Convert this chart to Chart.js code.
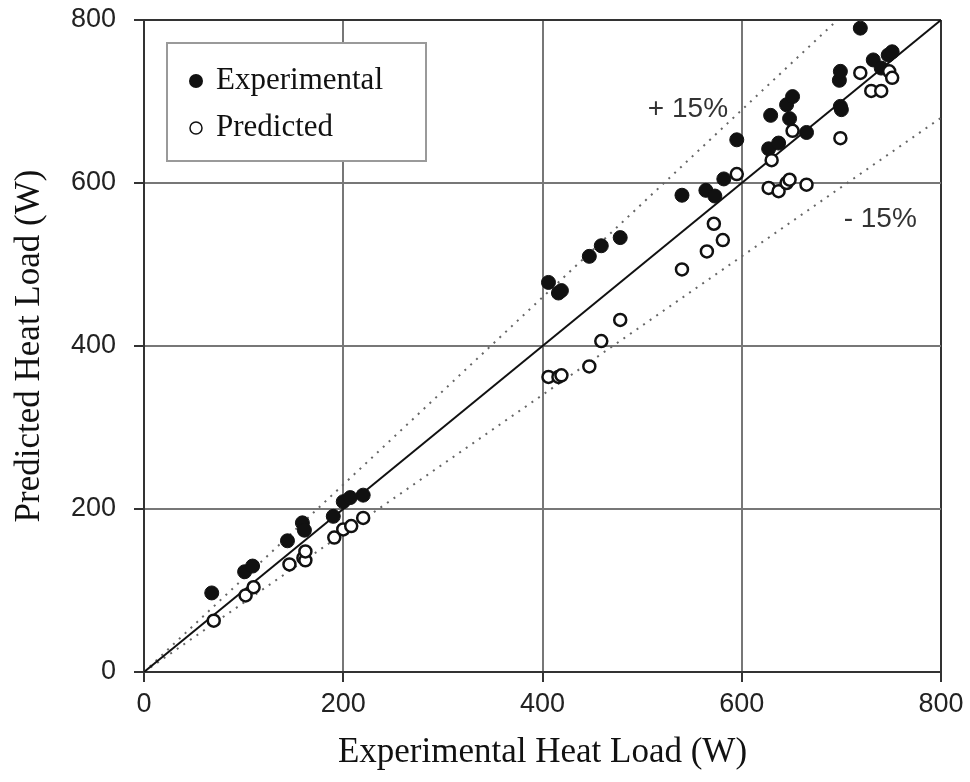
<!DOCTYPE html>
<html>
<head>
<meta charset="utf-8">
<script src="https://cdn.jsdelivr.net/npm/chart.js@4.4.1/dist/chart.umd.min.js"></script>
<style>
  html, body { margin: 0; padding: 0; background: #fff; }
  #wrap { width: 970px; height: 782px; position: relative; }
</style>
</head>
<body>
<div id="wrap"><canvas id="heatChart"></canvas></div>
<script>
// experimental heat load (x) vs predicted heat load (y), W
const expX = [68, 101, 109, 144, 159, 161, 190, 200, 207, 220, 406, 416, 419, 447, 459, 478, 540, 564, 573, 582, 595, 627, 629, 637, 645, 648, 651, 665, 698, 699, 699, 700, 719, 732, 740, 747, 751];
const expY = [97, 123, 130, 161, 183, 174, 191, 209, 214, 217, 478, 465, 468, 510, 523, 533, 585, 591, 584, 605, 653, 642, 683, 649, 696, 679, 706, 662, 726, 737, 694, 690, 790, 751, 741, 757, 761];

const predX = [70, 102, 110, 146, 160, 162, 162, 191, 200, 208, 220, 406, 416, 419, 447, 459, 478, 540, 565, 572, 581, 595, 627, 630, 637, 645, 648, 651, 665, 699, 719, 730, 740, 748, 751];
const predY = [63, 94, 104, 132, 140, 137, 148, 165, 175, 179, 189, 362, 362, 364, 375, 406, 432, 494, 516, 550, 530, 611, 594, 628, 590, 600, 604, 664, 598, 655, 735, 713, 713, 737, 729];

// reference lines (end points)
const perfectX = [0, 800], perfectY = [0, 800];
const upperX = [0, 696], upperY = [0, 800];
const lowerX = [0, 800], lowerY = [0, 680];

const tickValues = [0, 200, 400, 600, 800];
const seriesNames = ['Experimental', 'Predicted'];

function pts(xs, ys) {
    return xs.map((x, i) => ({ x: x, y: ys[i] }));
}

const serif = '"Liberation Serif", "Times New Roman", serif';
const sans = '"Liberation Sans", Arial, sans-serif';

// legend box + the +/-15% labels
const overlay = {
    id: 'overlay',
    afterDatasetsDraw(chart) {
        const ctx = chart.ctx;
        const area = chart.chartArea;
        const xs = chart.scales.x, ys = chart.scales.y;
        ctx.save();

        ctx.font = '28px ' + sans;
        ctx.fillStyle = '#333';
        ctx.textAlign = 'center';
        ctx.textBaseline = 'middle';
        ctx.fillText('+ 15%', xs.getPixelForValue(546), ys.getPixelForValue(690));
        ctx.fillText('- 15%', xs.getPixelForValue(739), ys.getPixelForValue(556));

        const bx = area.left + 23, by = area.top + 23;
        ctx.fillStyle = '#fff';
        ctx.fillRect(bx, by, 259, 118);
        ctx.strokeStyle = '#9a9a9a';
        ctx.lineWidth = 2;
        ctx.strokeRect(bx, by, 259, 118);

        ctx.font = '31px ' + serif;
        ctx.textAlign = 'left';
        ctx.fillStyle = '#111';
        seriesNames.forEach((name, i) => {
            const cy = by + 38 + i * 47;
            ctx.beginPath();
            ctx.arc(bx + 29, cy, i === 0 ? 7 : 6, 0, Math.PI * 2);
            if (i === 0) {
                ctx.fillStyle = '#111';
                ctx.fill();
            } else {
                ctx.strokeStyle = '#111';
                ctx.lineWidth = 1.5;
                ctx.stroke();
            }
            ctx.fillStyle = '#111';
            ctx.fillText(name, bx + 49, cy);
        });
        ctx.restore();
    }
};

const edge = v => (v === 0 || v === 800);

const ctx = document.getElementById('heatChart').getContext('2d');
const chart = new Chart(ctx, {
    type: 'scatter',
    data: {
        datasets: [
            {
                label: seriesNames[0],
                data: pts(expX, expY),
                pointRadius: 7,
                pointBackgroundColor: '#111',
                pointBorderColor: '#111',
                pointBorderWidth: 1,
                order: 1
            },
            {
                label: seriesNames[1],
                data: pts(predX, predY),
                pointRadius: 6,
                pointBackgroundColor: '#fff',
                pointBorderColor: '#111',
                pointBorderWidth: 2.5,
                order: 0
            },
            {
                label: 'y = x',
                data: pts(perfectX, perfectY),
                showLine: true,
                borderColor: '#111',
                borderWidth: 2,
                pointRadius: 0,
                order: 2
            },
            {
                label: '+15%',
                data: pts(upperX, upperY),
                showLine: true,
                borderColor: '#666',
                borderWidth: 2,
                borderDash: [2, 6],
                pointRadius: 0,
                order: 3
            },
            {
                label: '-15%',
                data: pts(lowerX, lowerY),
                showLine: true,
                borderColor: '#666',
                borderWidth: 2,
                borderDash: [2, 6],
                pointRadius: 0,
                order: 3
            }
        ]
    },
    options: {
        responsive: true,
        maintainAspectRatio: false,
        animation: false,
        layout: { padding: { top: 20, right: 29, left: 0, bottom: 0 } },
        plugins: {
            legend: { display: false },
            tooltip: { enabled: false }
        },
        scales: {
            x: {
                type: 'linear',
                min: 0,
                max: 800,
                afterBuildTicks: s => { s.ticks = tickValues.map(v => ({ value: v })); },
                afterFit: s => { s.height = 110; s.paddingLeft = 0; s.paddingRight = 0; },
                ticks: {
                    color: '#222',
                    padding: 6,
                    font: { family: sans, size: 27 }
                },
                grid: {
                    color: c => edge(c.tick.value) ? '#333' : '#777',
                    lineWidth: 2,
                    tickLength: 10,
                    tickColor: '#333'
                },
                border: { color: '#333', width: 2 },
                title: {
                    display: true,
                    text: 'Experimental Heat Load (W)',
                    color: '#111',
                    font: { family: serif, size: 35, lineHeight: 1 },
                    padding: { top: 0, bottom: 12 }
                }
            },
            y: {
                type: 'linear',
                min: 0,
                max: 800,
                afterBuildTicks: s => { s.ticks = tickValues.map(v => ({ value: v })); },
                afterFit: s => { s.width = 144; s.paddingTop = 0; s.paddingBottom = 0; },
                ticks: {
                    color: '#222',
                    padding: 18,
                    font: { family: sans, size: 27 }
                },
                grid: {
                    color: c => edge(c.tick.value) ? '#333' : '#777',
                    lineWidth: 2,
                    tickLength: 10,
                    tickColor: '#333'
                },
                border: { color: '#333', width: 2 },
                title: {
                    display: true,
                    text: 'Predicted Heat Load (W)',
                    color: '#111',
                    font: { family: serif, size: 35, lineHeight: 1 },
                    padding: { top: 12, bottom: 0 }
                }
            }
        }
    },
    plugins: [overlay]
});
</script>
</body>
</html>
